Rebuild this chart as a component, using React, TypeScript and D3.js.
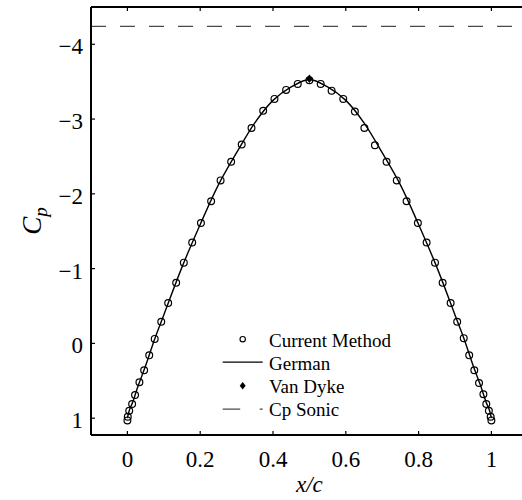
import React from 'react'
import * as d3 from 'd3'

// Current Method (circles)
const methodX = [0, 0.001, 0.005, 0.013, 0.021, 0.033, 0.046, 0.06, 0.075, 0.093, 0.112, 0.134, 0.155, 0.178, 0.202, 0.23, 0.256, 0.285, 0.314, 0.341, 0.373, 0.404, 0.436, 0.468, 0.5,
  0.531, 0.561, 0.593, 0.625, 0.651, 0.68, 0.712, 0.74, 0.767, 0.798, 0.822, 0.845, 0.866, 0.888, 0.906, 0.924, 0.939, 0.953, 0.966, 0.978, 0.986, 0.993, 0.998, 1.0]
const methodCp = [1.03, 0.98, 0.9, 0.81, 0.69, 0.52, 0.36, 0.16, -0.06, -0.29, -0.54, -0.81, -1.08, -1.35, -1.61, -1.9, -2.18, -2.43, -2.66, -2.88, -3.11, -3.27, -3.39, -3.47, -3.52,
  -3.47, -3.38, -3.27, -3.1, -2.88, -2.65, -2.43, -2.18, -1.9, -1.61, -1.35, -1.08, -0.81, -0.54, -0.29, -0.07, 0.16, 0.36, 0.53, 0.68, 0.81, 0.9, 0.98, 1.03]

// German (solid line)
const germanX = [0, 0.005, 0.015, 0.03, 0.05, 0.075, 0.1, 0.15, 0.2, 0.25, 0.3, 0.35, 0.4, 0.45, 0.5,
  0.55, 0.6, 0.65, 0.7, 0.75, 0.8, 0.85, 0.9, 0.925, 0.95, 0.97, 0.985, 0.995, 1.0]
const germanCp = [1.0, 0.9, 0.78, 0.56, 0.3, -0.06, -0.38, -1.02, -1.59, -2.12, -2.55, -2.95, -3.25, -3.43, -3.53,
  -3.43, -3.25, -2.95, -2.55, -2.12, -1.59, -1.02, -0.38, -0.06, 0.3, 0.56, 0.78, 0.9, 1.0]

// Van Dyke (diamond)
const vanDykeX = [0.5]
const vanDykeCp = [-3.54]

const cpSonic = -4.24

const xTicks = [0, 0.2, 0.4, 0.6, 0.8, 1]
const yTicks = [-4, -3, -2, -1, 0, 1]

const legendLabels = ['Current Method', 'German', 'Van Dyke', 'Cp Sonic']

const FONT = 'Liberation Serif'
const serif = { fontFamily: `'${FONT}'` }

const App = () => {
  const x = d3.scaleLinear().domain([-0.1, 1.1]).range([91, 527.8])
  const y = d3.scaleLinear().domain([-4.5, 1.225]).range([6.9, 435])
  const [x0, x1] = x.range()
  const [y0, y1] = y.range()

  const line = d3.line<number>()
    .x((d, i) => x(germanX[i]))
    .y((d) => y(d))
    .curve(d3.curveCatmullRom)

  const fmt = d3.format('')
  const diamond = (cx: number, cy: number, w: number, h: number) =>
    `M${cx},${cy - h} L${cx + w},${cy} L${cx},${cy + h} L${cx - w},${cy} Z`

  const legX = 269
  const legY = [346.5, 369.8, 393, 416.3]
  const mk = 242.7

  return (
    <svg width={522} height={500} style={{ position: 'absolute', left: 0, top: 0, background: '#fff' }}>
      <defs>
        <clipPath id="plot">
          <rect x={x0} y={y0} width={x1 - x0} height={y1 - y0} />
        </clipPath>
      </defs>

      <g clipPath="url(#plot)">
        <line x1={x0} x2={x1} y1={y(cpSonic)} y2={y(cpSonic)} stroke="#4a4a4a" strokeWidth={1.3} strokeDasharray="15 14" />
        <path d={line(germanCp) || ''} fill="none" stroke="#000" strokeWidth={1.4} />
        {methodCp.map((c, i) => (
          <circle key={i} cx={x(methodX[i])} cy={y(c)} r={3.4} fill="none" stroke="#000" strokeWidth={1.2} />
        ))}
        {vanDykeCp.map((c, i) => (
          <path key={i} d={diamond(x(vanDykeX[i]), y(c), 3.4, 4.3)} fill="#000" />
        ))}
      </g>

      {/* axes */}
      <line x1={x0} x2={x1} y1={y0} y2={y0} stroke="#000" strokeWidth={2} />
      <line x1={x0} x2={x1} y1={y1} y2={y1} stroke="#000" strokeWidth={2} />
      <line x1={x0} x2={x0} y1={y0} y2={y1} stroke="#000" strokeWidth={2} />

      {xTicks.map((t) => (
        <g key={t}>
          <line x1={x(t)} x2={x(t)} y1={y1} y2={y1 - 4} stroke="#000" strokeWidth={1.2} />
          <line x1={x(t)} x2={x(t)} y1={y0} y2={y0 + 4} stroke="#000" strokeWidth={1.2} />
          <text x={x(t)} y={466.5} fontSize={23} textAnchor="middle" fill="#000" fontFamily={FONT} style={serif}>{fmt(t)}</text>
        </g>
      ))}
      {yTicks.map((t) => (
        <g key={t}>
          <line x1={x0} x2={x0 + 4} y1={y(t)} y2={y(t)} stroke="#000" strokeWidth={1.2} />
          <text x={83} y={y(t) + 10} fontSize={23} textAnchor="end" fill="#000" fontFamily={FONT} style={serif}>{fmt(t)}</text>
        </g>
      ))}

      <text x={(x0 + x1) / 2} y={491.5} fontSize={23} fontStyle="italic" textAnchor="middle" fill="#000" fontFamily={FONT} style={serif}>x/c</text>
      <text transform={`translate(41,${(y0 + y1) / 2}) rotate(-90)`} fontSize={27} fontStyle="italic" textAnchor="middle" fill="#000" fontFamily={FONT} style={serif}>
        C<tspan fontSize={19} dy={6}>p</tspan>
      </text>

      {/* legend */}
      <circle cx={mk} cy={legY[0] - 7.3} r={2.7} fill="none" stroke="#000" strokeWidth={1.1} />
      <line x1={222.7} x2={262.7} y1={legY[1] - 7.6} y2={legY[1] - 7.6} stroke="#000" strokeWidth={1.3} />
      <path d={diamond(mk, legY[2] - 7.2, 3, 3.8)} fill="#000" />
      <line x1={222.7} x2={262.7} y1={legY[3] - 7.2} y2={legY[3] - 7.2} stroke="#4a4a4a" strokeWidth={1.3} strokeDasharray="17.5 19.5" />
      {legendLabels.map((l, i) => (
        <text key={l} x={legX} y={legY[i]} fontSize={19} fill="#000" fontFamily={FONT} style={serif}>{l}</text>
      ))}
    </svg>
  )
}

export default App
